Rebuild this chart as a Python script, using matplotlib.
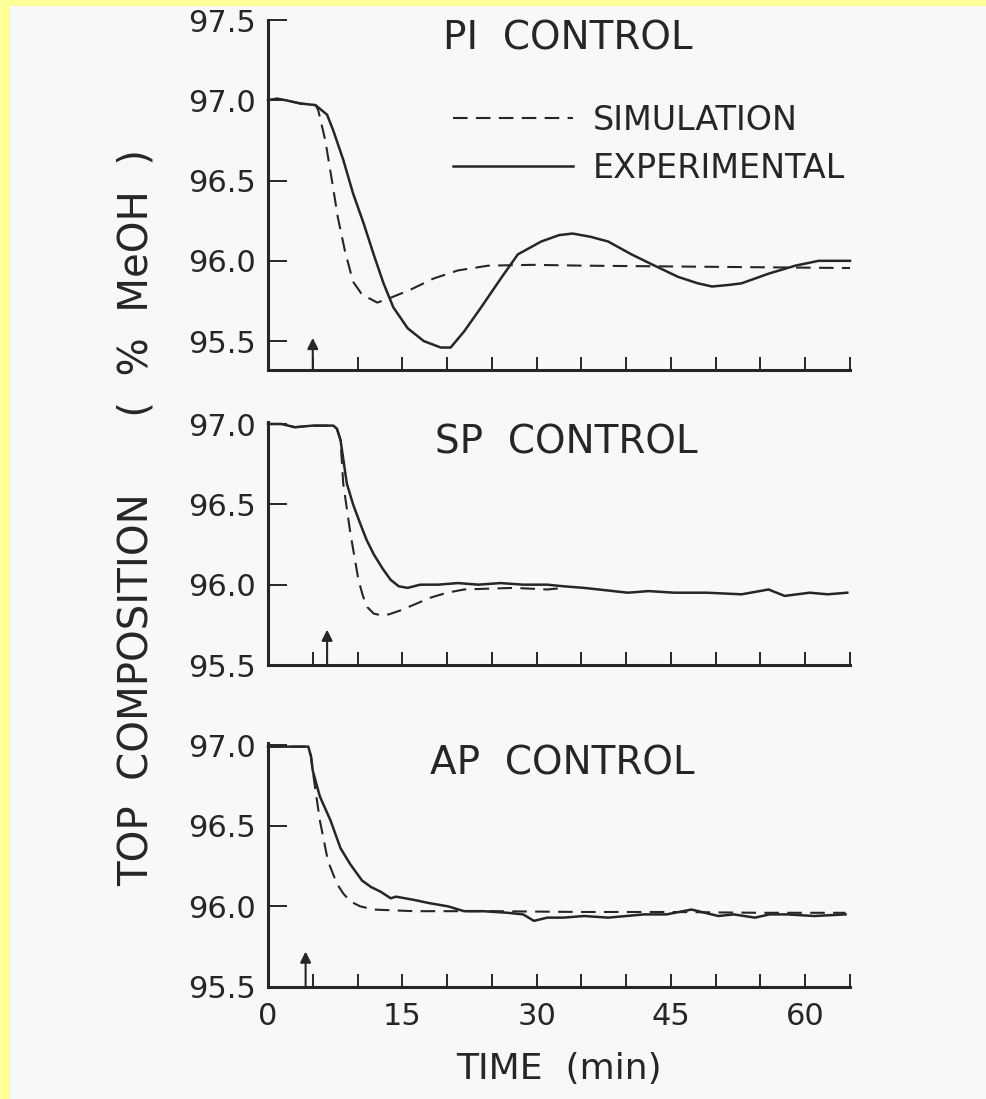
import matplotlib
matplotlib.use("Agg")
import matplotlib.pyplot as plt
from matplotlib.patches import Rectangle

# ---------------- data ----------------
titles = ["PI  CONTROL", "SP  CONTROL", "AP  CONTROL"]

pi_exp_t = [0, 1, 2, 3.6, 5.3, 6.6, 7.3, 8.4, 9.5, 10.7, 11.8, 12.9, 14.0, 15.6, 17.4,
            19.3, 20.4, 21.9, 23.8, 26.0, 27.9, 30.5, 32.5, 34.0, 36.0, 38.0, 40.6,
            42.8, 45.8, 48.0, 49.6, 51.5, 52.9, 55.9, 58.9, 61.5, 65]
pi_exp_v = [97.0, 97.01, 97.0, 96.98, 96.97, 96.91, 96.81, 96.63, 96.42, 96.23, 96.04,
            95.86, 95.71, 95.58, 95.50, 95.46, 95.46, 95.56, 95.71, 95.89, 96.04,
            96.12, 96.16, 96.17, 96.15, 96.12, 96.04, 95.98, 95.90, 95.86, 95.84,
            95.85, 95.86, 95.92, 95.97, 96.0, 96.0]

pi_sim_t = [0, 1, 2, 3.6, 5.3, 5.6, 6.4, 7.2, 7.8, 8.6, 9.5, 10.5, 12.2, 13.7, 15.9,
            18.5, 21.2, 24.6, 29.7, 35, 45, 55, 65]
pi_sim_v = [97.0, 97.01, 97.0, 96.98, 96.97, 96.94, 96.75, 96.48, 96.27, 96.06, 95.87,
            95.79, 95.74, 95.77, 95.82, 95.89, 95.94, 95.97, 95.975, 95.97, 95.965,
            95.96, 95.955]

sp_exp_t = [0, 1.5, 3, 5, 7.3, 7.7, 8.1, 8.8, 9.5, 10.3, 11.0, 11.8, 12.8, 13.7, 14.6,
            15.6, 17.0, 19.0, 21.2, 23.5, 26.0, 28.5, 31.2, 33.0, 35.3, 40.2, 42.5,
            45.4, 49.0, 52.9, 55.9, 57.7, 60.5, 62.5, 64.7]
sp_exp_v = [97.0, 97.0, 96.98, 96.99, 96.99, 96.97, 96.9, 96.63, 96.5, 96.38, 96.28,
            96.19, 96.1, 96.03, 95.99, 95.98, 96.0, 96.0, 96.01, 96.0, 96.01, 96.0,
            96.0, 95.99, 95.98, 95.95, 95.96, 95.95, 95.95, 95.94, 95.97, 95.93,
            95.95, 95.94, 95.95]

sp_sim_t = [0, 1.5, 3, 5, 7.3, 7.7, 8.1, 8.4, 9.2, 10.1, 10.6, 11.1, 11.8, 12.6, 13.5,
            14.8, 16.5, 18.2, 20.0, 21.9, 24.5, 27.5, 31.2, 33.0]
sp_sim_v = [97.0, 97.0, 96.98, 96.99, 96.99, 96.97, 96.9, 96.63, 96.32, 96.03, 95.93,
            95.86, 95.82, 95.81, 95.815, 95.84, 95.88, 95.92, 95.95, 95.97, 95.975,
            95.98, 95.97, 95.98]

ap_exp_t = [0, 2, 4.5, 4.8, 5.0, 5.8, 7.0, 8.1, 9.2, 10.5, 11.5, 12.6, 13.7, 14.3,
            16.3, 18.0, 20.1, 21.9, 24.0, 26.8, 28.5, 29.7, 31.2, 33.0, 35.3, 38.0,
            42.0, 44.5, 47.3, 50.3, 52.0, 54.4, 56.0, 58.0, 61.0, 64.5]
ap_exp_v = [96.99, 96.99, 96.99, 96.93, 96.84, 96.68, 96.53, 96.36, 96.26, 96.16,
            96.12, 96.09, 96.05, 96.06, 96.04, 96.02, 96.0, 95.97, 95.97, 95.96,
            95.95, 95.91, 95.93, 95.93, 95.94, 95.93, 95.95, 95.95, 95.98, 95.94,
            95.95, 95.93, 95.95, 95.95, 95.94, 95.95]

ap_sim_t = [0, 2, 4.5, 4.8, 5.0, 5.3, 5.8, 6.7, 7.7, 8.4, 9.2, 10.3, 11.8, 14.0, 16.3,
            25, 35, 45, 55, 64.5]
ap_sim_v = [96.99, 96.99, 96.99, 96.93, 96.84, 96.72, 96.53, 96.28, 96.14, 96.08,
            96.03, 96.0, 95.98, 95.975, 95.97, 95.97, 95.965, 95.965, 95.96, 95.96]

step_times = [5.0, 6.6, 4.2]          # arrows marking the disturbance
arrow_tops = [95.52, 95.72, 95.72]

x_ticks = list(range(0, 66, 5))
x_labels = ["0", "15", "30", "45", "60"]
y_ticks_top = [95.5, 96.0, 96.5, 97.0, 97.5]
y_ticks = [95.5, 96.0, 96.5, 97.0]

# ---------------- styling ----------------
W, H = 986, 1099
INK = "#262626"
PAPER = "#f8f8f8"
plt.rcParams["font.family"] = ["DejaVu Sans"]

fig = plt.figure(figsize=(W / 100, H / 100), dpi=100, facecolor="#ffff99")
fig.add_artist(Rectangle((10 / W, 0), 1 - 10 / W, 1 - 6 / H,
                         transform=fig.transFigure, facecolor=PAPER,
                         edgecolor="none", zorder=-10))


def add_axes(top_px, bot_px, left_px=268, right_px=850):
    return fig.add_axes([left_px / W, 1 - bot_px / H,
                         (right_px - left_px) / W, (bot_px - top_px) / H])


ax1 = add_axes(20, 370)
ax2 = add_axes(422, 665)
ax3 = add_axes(743, 987)
axes = [ax1, ax2, ax3]

series = [(pi_sim_t, pi_sim_v, pi_exp_t, pi_exp_v),
          (sp_sim_t, sp_sim_v, sp_exp_t, sp_exp_v),
          (ap_sim_t, ap_sim_v, ap_exp_t, ap_exp_v)]
ylims = [(95.32, 97.5), (95.5, 97.0125), (95.5, 97.0125)]
title_pos = [(0.515, 0.946), (0.512, 0.914), (0.505, 0.914)]

for i, ax in enumerate(axes):
    st, sv, et, ev = series[i]
    ax.set_facecolor("none")
    l_sim, = ax.plot(st, sv, color=INK, lw=1.5, linestyle=(0, (7, 4)),
                     label="SIMULATION", clip_on=False)
    l_exp, = ax.plot(et, ev, color=INK, lw=1.8, label="EXPERIMENTAL",
                     clip_on=False)
    ax.set_xlim(0, 65)
    ax.set_ylim(*ylims[i])
    for s in ["top", "right"]:
        ax.spines[s].set_visible(False)
    for s in ["left", "bottom"]:
        ax.spines[s].set_linewidth(2.2)
        ax.spines[s].set_color(INK)
    yt = y_ticks_top if i == 0 else y_ticks
    ax.set_xticks(x_ticks)
    ax.set_yticks(yt)
    ax.set_yticklabels([f"{v:.1f}" for v in yt])
    ax.tick_params(axis="x", direction="in", length=9.5, width=1.4, color=INK,
                   labelsize=22, labelcolor=INK, pad=11)
    ax.tick_params(axis="y", direction="in", length=14, width=1.4, color=INK,
                   labelsize=22, labelcolor=INK, pad=9)
    if i < 2:
        ax.set_xticklabels([])
    else:
        ax.set_xticklabels([x_labels[k // 3] if k % 3 == 0 else ""
                            for k in range(len(x_ticks))])
        ax.set_xlabel("TIME  (min)", fontsize=26, color=INK, labelpad=15)
    ax.text(title_pos[i][0], title_pos[i][1], titles[i], transform=ax.transAxes,
            ha="center", va="center", fontsize=28, color=INK)
    ax.annotate("", xy=(step_times[i], arrow_tops[i]),
                xytext=(step_times[i], ylims[i][0]),
                arrowprops=dict(arrowstyle="-|>", lw=1.5, color=INK,
                                mutation_scale=16, shrinkA=0, shrinkB=0))
    if i == 0:
        ax.legend(handles=[l_sim, l_exp], loc="upper left",
                  bbox_to_anchor=(0.318, 0.760), frameon=False, fontsize=24,
                  handlelength=3.6, handletextpad=0.6, labelspacing=0.45,
                  borderpad=0, borderaxespad=0, labelcolor=INK)

fig.text(137 / W, 1 - 518 / H, "TOP  COMPOSITION      (  %  MeOH  )", rotation=90,
         ha="center", va="center", fontsize=29, color=INK)

fig.savefig("out.png", dpi=100, facecolor=fig.get_facecolor())
